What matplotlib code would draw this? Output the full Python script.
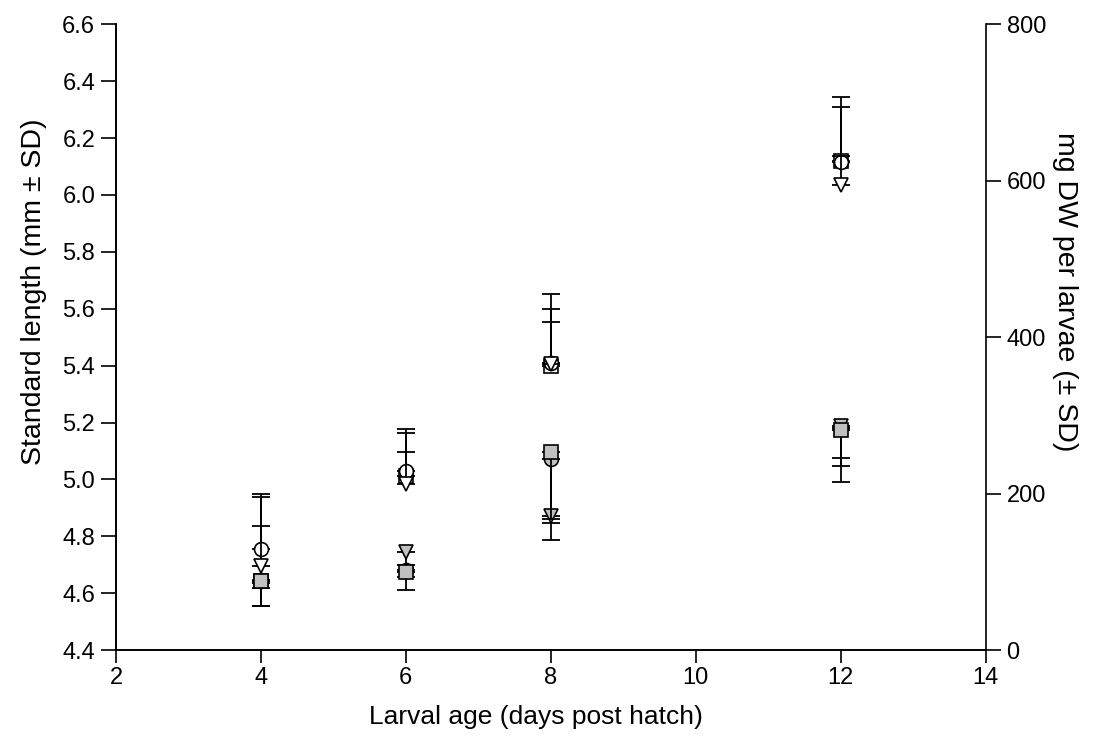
import matplotlib
matplotlib.use("Agg")
import matplotlib.pyplot as plt

plt.rcParams["font.family"] = ["Liberation Sans", "DejaVu Sans"]

# larval age (days post hatch)
days = [4, 6, 8, 12]

# standard length (mm), upper SD only drawn
sl_circle = [4.755, 5.029, 5.410, 6.115]
sl_circle_sd = [0.193, 0.147, 0.240, 0.228]
sl_triangle = [4.695, 4.985, 5.405, 6.035]
sl_triangle_sd = [0.242, 0.111, 0.150, 0.100]
sl_square = [4.642, 5.011, 5.400, 6.120]
sl_square_sd = [0.194, 0.151, 0.198, 0.190]

# dry weight (mg DW per larvae), lower SD only drawn
dw_circle = [90, 102, 244, 284]
dw_circle_sd = [33, 25, 103, 49]
dw_triangle = [86, 125, 171, 286]
dw_triangle_sd = [30, 16, 9, 41]
dw_square = [88, 100, 253, 281]
dw_square_sd = [8, 7, 86, 66]

GREY = "#c0c0c0"
MS = 10
CAP = 6.5
ELW = 1.3

fig = plt.figure(figsize=(10.94, 7.56), dpi=100)
ax = fig.add_axes([0.106, 0.140, 0.795, 0.828])
ax2 = ax.twinx()
ax.set_xlim(2, 14)
ax.set_ylim(4.4, 6.6)
ax2.set_ylim(0, 800)


def plot_series(y, sd, marker, face, upper, z):
    # all marks live on ax so stacking can interleave; DW series use ax2's scale
    tr = ax.transData if upper else ax2.transData
    err = [[0] * len(sd), sd] if upper else [sd, [0] * len(sd)]
    ax.errorbar(days, y, yerr=err, fmt="none", ecolor="black",
                elinewidth=ELW, capsize=CAP, capthick=ELW, zorder=z,
                transform=tr)
    ax.plot(days, y, linestyle="none", marker=marker, ms=MS,
            mfc=face, mec="black", mew=1.2, zorder=z + 0.5, transform=tr)


ax.set_zorder(1)
ax.patch.set_visible(False)
plot_series(dw_circle, dw_circle_sd, "o", GREY, False, 2)
plot_series(dw_triangle, dw_triangle_sd, "v", GREY, False, 3)
plot_series(sl_square, sl_square_sd, "s", "white", True, 4)
plot_series(sl_circle, sl_circle_sd, "o", "white", True, 5)
plot_series(sl_triangle, sl_triangle_sd, "v", "white", True, 6)
plot_series(dw_square, dw_square_sd, "s", GREY, False, 7)

ax.set_xlim(2, 14)
ax.set_ylim(4.4, 6.6)
ax2.set_ylim(0, 800)
ax.set_xticks([2, 4, 6, 8, 10, 12, 14])
ax.set_yticks([4.4, 4.6, 4.8, 5.0, 5.2, 5.4, 5.6, 5.8, 6.0, 6.2, 6.4, 6.6])
ax.set_yticklabels([f"{v:.1f}" for v in ax.get_yticks()])
ax2.set_yticks([0, 200, 400, 600, 800])

for a in (ax, ax2):
    a.spines["top"].set_visible(False)
    a.tick_params(axis="y", direction="out", length=11, width=1.2, labelsize=17, pad=4)
    for s in a.spines.values():
        s.set_linewidth(1.2)
ax.tick_params(axis="x", direction="out", length=9, width=1.2, labelsize=17, pad=3)
ax.spines["right"].set_visible(False)

ax.set_xlabel("Larval age (days post hatch)", fontsize=19)
ax.set_ylabel("Standard length (mm ± SD)", fontsize=20.5)
ax2.set_ylabel("mg DW per larvae (± SD)", fontsize=20.5, rotation=270, va="bottom")
ax.xaxis.set_label_coords(0.483, -0.088)
ax.yaxis.set_label_coords(-0.079, 0.573)
ax2.yaxis.set_label_coords(1.076, 0.573)

fig.savefig("out.png", dpi=100)
